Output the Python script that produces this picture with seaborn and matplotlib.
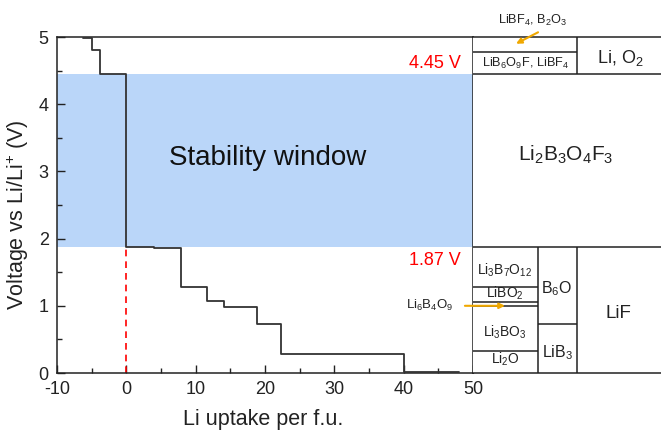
import matplotlib
matplotlib.use("Agg")
import matplotlib.pyplot as plt
import seaborn as sns
import numpy as np
import pandas as pd

# ---- data ----
uptake = [-6.25, -5.0, -3.8, 0.0, 4.0, 7.85, 11.7, 14.1, 18.8, 22.3, 40.1, 48.0]
voltage = [4.98, 4.80, 4.45, 1.88, 1.86, 1.285, 1.07, 0.98, 0.725, 0.29, 0.02, 0.02]
upper_limit = 4.45
lower_limit = 1.87

# phase boundaries of the right-hand panel (voltage levels)
top_split = 4.78
left_col_levels = [1.285, 1.06, 0.99, 0.32]
mid_col_level = 0.73
col_edges = [0.346, 0.553]

sns.set_theme(style="white")
plt.rcParams['font.family'] = ['Liberation Sans', 'DejaVu Sans']
plt.rcParams['mathtext.fontset'] = 'custom'
plt.rcParams['mathtext.rm'] = 'Liberation Sans'
plt.rcParams['mathtext.it'] = 'Liberation Sans:italic'
plt.rcParams['mathtext.default'] = 'rm'
plt.rcParams['axes.unicode_minus'] = False

fig = plt.figure(figsize=(6.61, 4.33), dpi=100)
L, R, B, T = 57/661, 473/661, 60/433, 396/433
ax = fig.add_axes([L, B, R - L, T - B])
ax2 = fig.add_axes([R, B, 1 - R, T - B])

LC = '#222222'
df = pd.DataFrame({'x': uptake, 'y': voltage})
ax.fill_between([-10, 50], lower_limit, upper_limit, color='#BAD6F9', lw=0, zorder=0)
sns.lineplot(data=df, x='x', y='y', drawstyle='steps-post', color='#333333', lw=1.3, ax=ax, zorder=3)
ax.vlines(0, 0, lower_limit, colors='red', linestyles=(0, (4, 3)), lw=1.2, zorder=2)

ax.set_xlim(-10, 50)
ax.set_ylim(0, 5)
ax.set_xticks(np.arange(-10, 51, 10))
ax.set_xticks(np.arange(-5, 50, 5), minor=True)
ax.set_yticks(np.arange(0, 6, 1))
ax.set_yticks(np.arange(0.5, 5, 1), minor=True)
ax.tick_params(axis='both', which='major', direction='in', length=6, width=1.0,
               labelsize=13, pad=6, color=LC, labelcolor='#222222', bottom=True, left=True)
ax.tick_params(axis='both', which='minor', direction='in', length=3.5, width=1.0,
               color=LC, bottom=True, left=True)
for s in ax.spines.values():
    s.set_color(LC)
    s.set_linewidth(1.1)

ax.set_xlabel('Li uptake per f.u.', fontsize=15.5, color='#222222')
ax.set_ylabel('Voltage vs Li/Li$^{+}$ (V)', fontsize=15.5, color='#222222')
ax.xaxis.set_label_coords(0.495, -0.108)
ax.yaxis.set_label_coords(-0.062, 0.47)

ax.text(20.4, 3.2, 'Stability window', fontsize=20, ha='center', va='center', color='#111111')
ax.text(48.3, 4.61, '4.45 V', fontsize=13, color='red', ha='right', va='center')
ax.text(48.3, 1.67, '1.87 V', fontsize=13, color='red', ha='right', va='center')
ax.text(43.7, 1.01, 'Li$_6$B$_4$O$_9$', fontsize=9.5, ha='center', va='center', color='#222222')

# ---- right panel ----
ax2.set_xlim(0, 1)
ax2.set_ylim(0, 5)
ax2.set_xticks([])
ax2.set_yticks([])
for k, s in ax2.spines.items():
    s.set_color(LC)
    s.set_linewidth(1.1)
ax2.spines['right'].set_visible(False)
ax2.spines['left'].set_visible(False)

lw = 1.1
ax2.hlines([upper_limit, lower_limit], 0, 1, colors=LC, lw=lw)
ax2.vlines(col_edges[1], upper_limit, 5, colors=LC, lw=lw)
ax2.hlines(top_split, 0, col_edges[1], colors=LC, lw=lw)
ax2.vlines(col_edges, 0, lower_limit, colors=LC, lw=lw)
ax2.hlines(left_col_levels, 0, col_edges[0], colors=LC, lw=lw)
ax2.hlines(mid_col_level, col_edges[0], col_edges[1], colors=LC, lw=lw)

tc = '#222222'
ax2.text(0.282, 4.60, 'LiB$_6$O$_9$F, LiBF$_4$', fontsize=9.2, ha='center', va='center', color=tc)
ax2.text(0.782, 4.69, 'Li, O$_2$', fontsize=13, ha='center', va='center', color=tc)
ax2.text(0.495, 3.24, 'Li$_2$B$_3$O$_4$F$_3$', fontsize=15, ha='center', va='center', color=tc)
ax2.text(0.17, 1.53, 'Li$_3$B$_7$O$_{12}$', fontsize=10, ha='center', va='center', color=tc)
ax2.text(0.17, 1.19, 'LiBO$_2$', fontsize=10, ha='center', va='center', color=tc)
ax2.text(0.17, 0.61, 'Li$_3$BO$_3$', fontsize=10, ha='center', va='center', color=tc)
ax2.text(0.17, 0.21, 'Li$_2$O', fontsize=10, ha='center', va='center', color=tc)
ax2.text(0.447, 1.25, 'B$_6$O', fontsize=11.5, ha='center', va='center', color=tc)
ax2.text(0.447, 0.31, 'LiB$_3$', fontsize=11.5, ha='center', va='center', color=tc)
ax2.text(0.771, 0.89, 'LiF', fontsize=13.5, ha='center', va='center', color=tc)

orange = '#F0A800'
ax2.annotate('', xy=(0.229, 4.90), xytext=(0.346, 5.07), annotation_clip=False,
             arrowprops=dict(arrowstyle='-|>', color=orange, lw=1.5, mutation_scale=8,
                             shrinkA=0, shrinkB=0))
ax2.text(0.319, 5.25, 'LiBF$_4$, B$_2$O$_3$', fontsize=9.2, ha='center', va='center', color=tc,
         clip_on=False)
ax2.annotate('', xy=(0.17, 1.0), xytext=(-0.043, 1.0), annotation_clip=False,
             arrowprops=dict(arrowstyle='-|>', color=orange, lw=1.5, mutation_scale=8,
                             shrinkA=0, shrinkB=0))

fig.savefig('out.png', dpi=100)
